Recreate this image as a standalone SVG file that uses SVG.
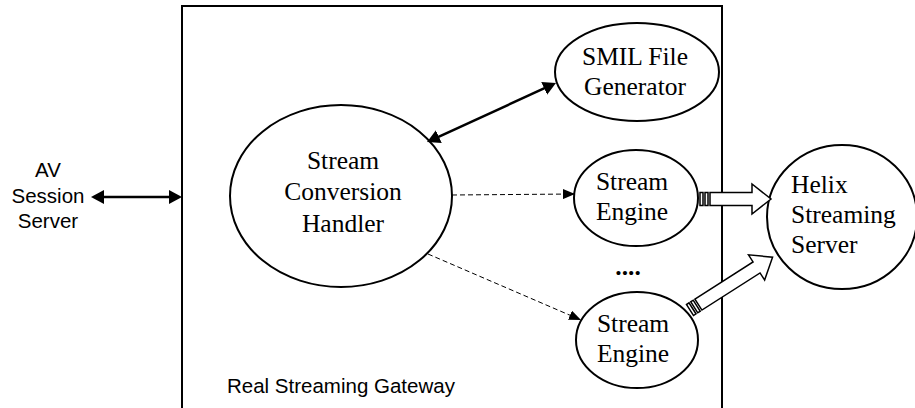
<svg xmlns="http://www.w3.org/2000/svg" width="915" height="408" viewBox="0 0 915 408">
<style>
.node{fill:#fff;stroke:#000;stroke-width:2}
.t{font-family:"Liberation Serif","Times New Roman",serif;font-size:25.5px;fill:#000;text-anchor:middle}
.s{text-anchor:start}
.a{font-family:"Liberation Sans",Arial,sans-serif;font-size:20.5px;fill:#000}
.thick{stroke:#000;stroke-width:2.5;fill:none}
.dash{stroke:#000;stroke-width:1;stroke-dasharray:5,3;fill:none}
.blk{fill:#fff;stroke:#000;stroke-width:1.5;stroke-linejoin:miter}
</style>
<defs>
<marker id="big" viewBox="0 0 13 14" markerWidth="13" markerHeight="14" refX="4" refY="7" orient="auto-start-reverse" markerUnits="userSpaceOnUse"><path d="M0,0 L13,7 L0,14 z" fill="#000"/></marker>
<marker id="small" viewBox="0 0 12 10" markerWidth="12" markerHeight="10" refX="12" refY="5" orient="auto" markerUnits="userSpaceOnUse"><path d="M0,0 L12,5 L0,10 z" fill="#000"/></marker>
</defs>
<rect width="915" height="408" fill="#fff"/>
<g id="gateway">
<rect x="182" y="6" width="540" height="430" fill="none" stroke="#000" stroke-width="2"/>
<text class="a" x="227" y="393">Real Streaming Gateway</text>
</g>
<g id="av-session-server">
<text class="a" text-anchor="middle" x="48" y="177">AV</text>
<text class="a" text-anchor="middle" x="48" y="203">Session</text>
<text class="a" text-anchor="middle" x="48" y="228">Server</text>
</g>
<g id="stream-conversion-handler">
<ellipse class="node" cx="341" cy="196" rx="111" ry="91"/>
<text class="t" x="343" y="169">Stream</text>
<text class="t" x="343" y="200">Conversion</text>
<text class="t" x="343" y="232">Handler</text>
</g>
<g id="smil-file-generator">
<ellipse class="node" cx="637" cy="72" rx="82" ry="49"/>
<text class="t" x="635" y="65">SMIL File</text>
<text class="t" x="635" y="95">Generator</text>
</g>
<g id="stream-engine-1">
<ellipse class="node" cx="636" cy="198" rx="62" ry="48"/>
<text class="t" x="632" y="190">Stream</text>
<text class="t" x="632" y="220">Engine</text>
</g>
<g id="stream-engine-2">
<ellipse class="node" cx="637" cy="340" rx="61" ry="48"/>
<text class="t" x="633" y="332">Stream</text>
<text class="t" x="633" y="362">Engine</text>
</g>
<text class="t" x="628" y="275" font-weight="bold">....</text>
<g id="helix-streaming-server">
<ellipse class="node" cx="842" cy="217" rx="75" ry="72"/>
<text class="t s" x="791" y="193">Helix</text>
<text class="t s" x="791" y="223">Streaming</text>
<text class="t s" x="791" y="253">Server</text>
</g>
<g id="connectors">
<line class="thick" x1="100" y1="197" x2="173" y2="197" marker-start="url(#big)" marker-end="url(#big)"/>
<line class="thick" x1="435.2" y1="138.3" x2="547.8" y2="86.7" marker-start="url(#big)" marker-end="url(#big)"/>
<line class="dash" x1="452" y1="195" x2="575" y2="194" marker-end="url(#small)"/>
<line class="dash" x1="428" y1="254" x2="581" y2="320" marker-end="url(#small)"/>
<g transform="translate(700,199)">
<rect class="blk" x="0" y="-6.5" width="3" height="13"/>
<rect class="blk" x="5" y="-6.5" width="3" height="13"/>
<path class="blk" d="M10,-6.5 L52,-6.5 L52,-15 L71,0 L52,15 L52,6.5 L10,6.5 Z"/>
</g>
<g transform="translate(690,310) rotate(-32.6)">
<rect class="blk" x="0" y="-6.5" width="3" height="13"/>
<rect class="blk" x="5" y="-6.5" width="3" height="13"/>
<path class="blk" d="M10,-6.5 L79,-6.5 L79,-15 L98,0 L79,15 L79,6.5 L10,6.5 Z"/>
</g>
</g>
</svg>
